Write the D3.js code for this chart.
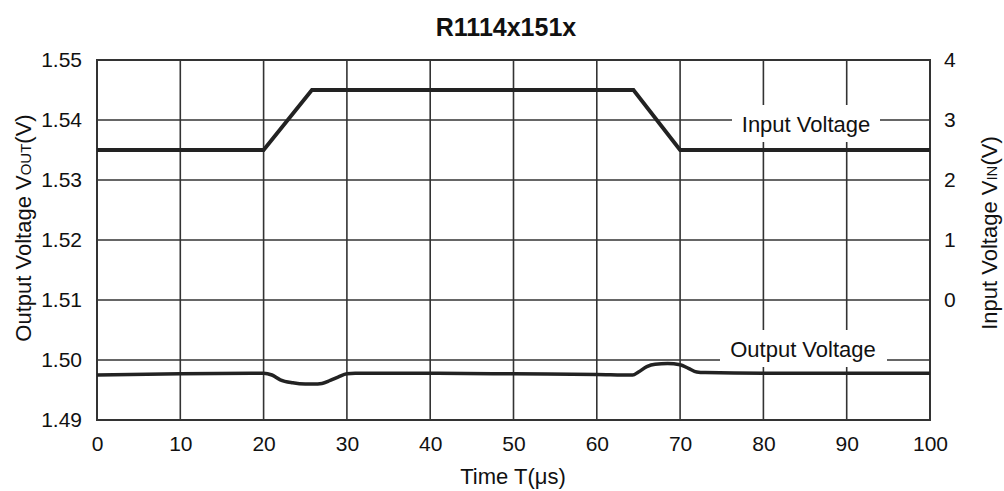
<!DOCTYPE html>
<html>
<head>
<meta charset="utf-8">
<script src="https://cdn.jsdelivr.net/npm/d3@7"></script>
<style>
  body { margin: 0; background: #fff; }
  text { font-family: "Liberation Sans", Arial, sans-serif; fill: #111; }
</style>
</head>
<body>
<script>
var svgWidth = 1004;
var svgHeight = 491;

// plot area in pixels
var margin = { top: 60, right: 74, bottom: 71, left: 97 };
var chartWidth = svgWidth - margin.left - margin.right;
var chartHeight = svgHeight - margin.top - margin.bottom;

// data
var timeTicks = [0, 10, 20, 30, 40, 50, 60, 70, 80, 90, 100];
var voutTicks = [1.49, 1.50, 1.51, 1.52, 1.53, 1.54, 1.55];
var vinTicks = [0, 1, 2, 3, 4];

var inputTime = [0, 20, 25.8, 64.4, 70, 100];
var inputVolt = [2.5, 2.5, 3.5, 3.5, 2.5, 2.5];

var outputTime = [0, 10, 20, 21, 22, 23.5, 25, 26, 27, 28, 29, 30, 31, 40, 50, 60, 64.3, 65, 66, 67, 68.5, 70, 71, 72, 73, 80, 100];
var outputVolt = [1.4975, 1.4977, 1.4978, 1.4975, 1.4967, 1.4962, 1.4960, 1.4960, 1.4961, 1.4966, 1.4972, 1.4977, 1.4978, 1.4978, 1.4977, 1.4976, 1.4975, 1.4980, 1.4989, 1.4993, 1.4994, 1.4992, 1.4986, 1.4980, 1.4979, 1.4978, 1.4978];

var svg = d3.select("body")
  .append("svg")
  .attr("width", svgWidth)
  .attr("height", svgHeight);

var chartGroup = svg.append("g")
  .attr("transform", `translate(${margin.left}, ${margin.top})`);

var x = d3.scaleLinear().domain([0, 100]).range([0, chartWidth]);
var yLeft = d3.scaleLinear().domain([1.49, 1.55]).range([chartHeight, 0]);
var yRight = d3.scaleLinear().domain([-2, 4]).range([chartHeight, 0]);

var gridColor = "#333";

// grid lines
chartGroup.selectAll(".vgrid")
  .data(timeTicks)
  .enter()
  .append("line")
  .attr("x1", d => x(d)).attr("x2", d => x(d))
  .attr("y1", 0).attr("y2", chartHeight)
  .attr("stroke", gridColor)
  .attr("stroke-width", 1.6);

chartGroup.selectAll(".hgrid")
  .data(voutTicks)
  .enter()
  .append("line")
  .attr("x1", 0).attr("x2", chartWidth)
  .attr("y1", d => yLeft(d)).attr("y2", d => yLeft(d))
  .attr("stroke", gridColor)
  .attr("stroke-width", 1.6);

chartGroup.append("rect")
  .attr("width", chartWidth)
  .attr("height", chartHeight)
  .attr("fill", "none")
  .attr("stroke", gridColor)
  .attr("stroke-width", 2);

// axes (labels only)
var xAxis = d3.axisBottom(x).tickValues(timeTicks).tickSize(0).tickPadding(16);
var leftAxis = d3.axisLeft(yLeft).tickValues(voutTicks).tickFormat(d3.format(".2f")).tickSize(0).tickPadding(15);
var rightAxis = d3.axisRight(yRight).tickValues(vinTicks).tickFormat(d3.format("d")).tickSize(0).tickPadding(14);

function styleAxis(g) {
  g.select(".domain").remove();
  g.selectAll("text").style("font-size", "21px").attr("fill", "#111");
}

chartGroup.append("g")
  .attr("transform", `translate(0, ${chartHeight})`)
  .call(xAxis).call(styleAxis);
chartGroup.append("g").call(leftAxis).call(styleAxis);
chartGroup.append("g")
  .attr("transform", `translate(${chartWidth}, 0)`)
  .call(rightAxis).call(styleAxis);

// series labels with white boxes
function seriesLabel(text, cx, baseline, x0, x1) {
  chartGroup.append("rect")
    .attr("x", x0 - margin.left)
    .attr("y", baseline - margin.top - 27)
    .attr("width", x1 - x0)
    .attr("height", 37)
    .attr("fill", "#fff");
  chartGroup.append("text")
    .attr("x", cx - margin.left)
    .attr("y", baseline - margin.top)
    .attr("text-anchor", "middle")
    .style("font-size", "22px")
    .text(text);
}
seriesLabel("Input Voltage", 806, 132, 732, 880);
seriesLabel("Output Voltage", 803, 357, 720, 887);

// lines
var inputLine = d3.line()
  .x((d, i) => x(inputTime[i]))
  .y(d => yRight(d));

var outputLine = d3.line()
  .x((d, i) => x(outputTime[i]))
  .y(d => yLeft(d))
  .curve(d3.curveMonotoneX);

chartGroup.append("path")
  .attr("d", inputLine(inputVolt))
  .attr("fill", "none")
  .attr("stroke", "#222")
  .attr("stroke-width", 3.8);

chartGroup.append("path")
  .attr("d", outputLine(outputVolt))
  .attr("fill", "none")
  .attr("stroke", "#222")
  .attr("stroke-width", 3.5);

// titles
svg.append("text")
  .attr("x", 506)
  .attr("y", 36)
  .attr("text-anchor", "middle")
  .style("font-size", "25px")
  .style("font-weight", "bold")
  .text("R1114x151x");

svg.append("text")
  .attr("x", 513)
  .attr("y", 484)
  .attr("text-anchor", "middle")
  .style("font-size", "22px")
  .text("Time T(μs)");

var leftTitle = svg.append("text")
  .attr("transform", "translate(31, 228) rotate(-90)")
  .attr("text-anchor", "middle")
  .style("font-size", "22px");
leftTitle.append("tspan").text("Output Voltage V");
leftTitle.append("tspan").style("font-size", "15px").text("OUT");
leftTitle.append("tspan").text("(V)");

var rightTitle = svg.append("text")
  .attr("transform", "translate(997, 233) rotate(-90)")
  .attr("text-anchor", "middle")
  .style("font-size", "22px");
rightTitle.append("tspan").text("Input Voltage V");
rightTitle.append("tspan").style("font-size", "15px").text("IN");
rightTitle.append("tspan").text("(V)");
</script>
</body>
</html>
